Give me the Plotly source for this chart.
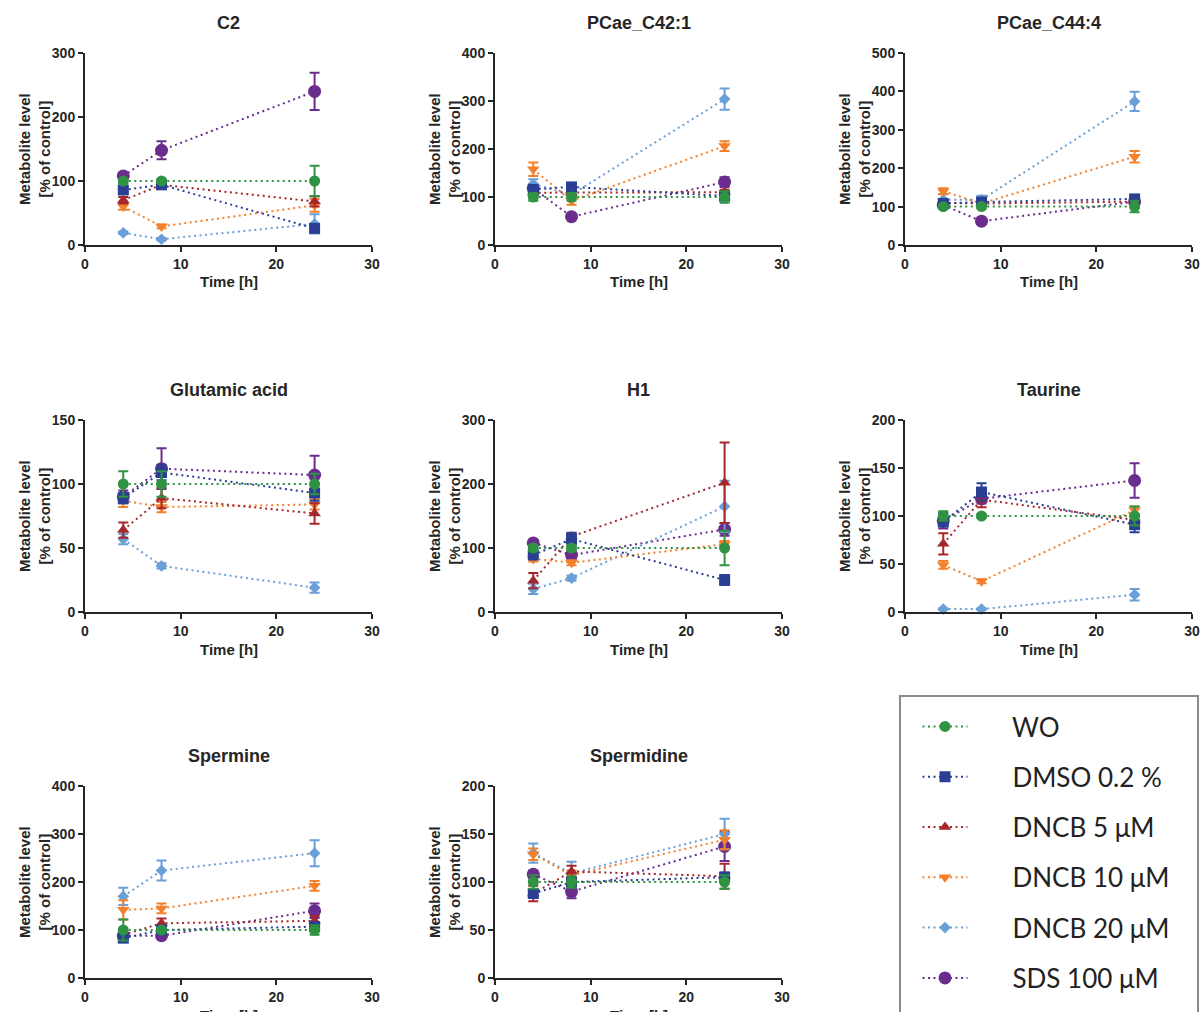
import plotly.graph_objects as go

W, H = 1201, 1012

TIMES = [4, 8, 24]
SERIES = ["WO", "DMSO 0.2 %", "DNCB 5 μM", "DNCB 10 μM", "DNCB 20 μM", "SDS 100 μM"]
COLORS = ["#2f9343", "#2a3f94", "#a5282c", "#f3812b", "#6a9fd8", "#6a2d8e"]
SYMBOLS = ["circle", "square", "triangle-up", "triangle-down", "diamond", "circle"]
SIZES = [11, 11, 11, 11, 9, 13]

PANEL_TITLES = ["C2", "PCae_C42:1", "PCae_C44:4", "Glutamic acid", "H1", "Taurine",
                "Spermine", "Spermidine"]
Y_MAX = [300, 400, 500, 150, 300, 200, 400, 200]
Y_DTICK = [100, 100, 100, 50, 100, 50, 100, 50]
X_MAX = 30
X_DTICK = 10

# rows follow SERIES order; columns follow TIMES
C2_MEAN = [[100, 100, 100], [86, 94, 26], [70, 94, 68], [60, 29, 62], [19, 9, 33], [108, 148, 240]]
C2_ERR = [[3, 3, 24], [4, 4, 6], [5, 4, 8], [5, 3, 10], [2, 2, 15], [4, 14, 29]]

C42_MEAN = [[100, 100, 100], [116, 121, 102], [109, 109, 110], [158, 92, 206], [127, 105, 304], [118, 59, 131]]
C42_ERR = [[8, 8, 12], [5, 5, 8], [5, 5, 5], [14, 8, 10], [10, 5, 22], [5, 4, 10]]

C44_MEAN = [[100, 100, 100], [108, 112, 120], [110, 108, 113], [140, 108, 230], [118, 118, 374], [104, 62, 113]]
C44_ERR = [[5, 5, 15], [5, 8, 5], [5, 5, 5], [8, 5, 15], [15, 10, 25], [4, 4, 6]]

GLU_MEAN = [[100, 100, 100], [89, 109, 93], [64, 89, 77], [87, 82, 84], [57, 36, 19], [90, 112, 107]]
GLU_ERR = [[10, 10, 8], [4, 6, 6], [6, 8, 8], [5, 4, 4], [4, 2, 4], [5, 16, 15]]

H1_MEAN = [[100, 100, 100], [89, 114, 50], [49, 118, 202], [83, 77, 106], [36, 53, 165], [108, 89, 129]]
H1_ERR = [[5, 4, 27], [5, 10, 8], [12, 5, 63], [4, 4, 5], [8, 4, 40], [4, 6, 10]]

TAU_MEAN = [[100, 100, 100], [94, 125, 91], [71, 117, 96], [49, 32, 106], [3, 3, 18], [95, 118, 137]]
TAU_ERR = [[5, 2, 10], [5, 9, 8], [11, 8, 5], [4, 2, 4], [1, 1, 6], [8, 5, 18]]

SPM_MEAN = [[100, 100, 100], [83, 100, 107], [90, 114, 119], [142, 145, 192], [170, 224, 260], [88, 88, 140]]
SPM_ERR = [[22, 4, 10], [5, 5, 8], [5, 10, 10], [20, 10, 10], [18, 21, 27], [4, 5, 15]]

SPD_MEAN = [[100, 100, 100], [88, 100, 105], [88, 111, 106], [129, 107, 144], [130, 109, 150], [108, 90, 137]]
SPD_ERR = [[7, 6, 7], [4, 4, 5], [8, 6, 13], [6, 5, 10], [10, 12, 16], [4, 7, 15]]

PANEL_MEANS = [C2_MEAN, C42_MEAN, C44_MEAN, GLU_MEAN, H1_MEAN, TAU_MEAN, SPM_MEAN, SPD_MEAN]
PANEL_ERRS = [C2_ERR, C42_ERR, C44_ERR, GLU_ERR, H1_ERR, TAU_ERR, SPM_ERR, SPD_ERR]

# ---- layout geometry (pixels) ----
COL_X = [(85, 372), (495, 782), (905, 1192)]
ROW_Y = [(53, 245), (420, 612), (786, 978)]

INK = "#262626"
BOLD = dict(family="Arial, Liberation Sans, sans-serif", color=INK, weight="bold")
LEGEND_PAD = "\u00a0" * 6

fig = go.Figure()
layout = dict(
    width=W, height=H,
    margin=dict(l=0, r=0, t=0, b=0, autoexpand=False),
    paper_bgcolor="white", plot_bgcolor="white",
    showlegend=True,
    annotations=[], shapes=[],
)

for p, title in enumerate(PANEL_TITLES):
    r, c = divmod(p, 3)
    x0, x1 = COL_X[c]
    y0, y1 = ROW_Y[r]
    sfx = "" if p == 0 else str(p + 1)
    xa, ya = "xaxis" + sfx, "yaxis" + sfx
    axis_common = dict(
        showline=True, linecolor=INK, linewidth=2,
        ticks="outside", ticklen=5, tickwidth=2, tickcolor=INK,
        showgrid=False, zeroline=False, automargin=False,
        tickfont=dict(size=14, **BOLD),
    )
    layout[xa] = dict(domain=[x0 / W, x1 / W], anchor="y" + sfx,
                      range=[0, X_MAX], dtick=X_DTICK, tick0=0, **axis_common)
    layout[ya] = dict(domain=[1 - y1 / H, 1 - y0 / H], anchor="x" + sfx,
                      range=[0, Y_MAX[p]], dtick=Y_DTICK[p], tick0=0, **axis_common)

    # panel title
    layout["annotations"].append(dict(
        text=title, xref="paper", yref="paper",
        x=(x0 + x1) / 2 / W, y=1 - (y0 - 30) / H,
        xanchor="center", yanchor="middle", showarrow=False,
        font=dict(size=18, **BOLD)))
    # x title
    layout["annotations"].append(dict(
        text="Time [h]", xref="paper", yref="paper",
        x=(x0 + x1) / 2 / W, y=1 - (y1 + 37) / H,
        xanchor="center", yanchor="middle", showarrow=False,
        font=dict(size=15, **BOLD)))
    # y title
    layout["annotations"].append(dict(
        text="Metabolite level<br>[% of control]", xref="paper", yref="paper",
        x=(x0 - 51) / W, y=1 - (y0 + y1) / 2 / H, textangle=-90,
        xanchor="center", yanchor="middle", showarrow=False,
        font=dict(size=15, **BOLD)))

    means = PANEL_MEANS[p]
    errs = PANEL_ERRS[p]
    for s in reversed(range(len(SERIES))):
        fig.add_trace(go.Scatter(
            x=TIMES, y=means[s],
            error_y=dict(type="data", array=errs[s], visible=True,
                         color=COLORS[s], thickness=2, width=5),
            mode="lines+markers",
            name=LEGEND_PAD + SERIES[s],
            legendgroup=SERIES[s],
            legendrank=s + 1,
            showlegend=(p == 0),
            line=dict(color=COLORS[s], width=2, dash="2px,3.5px"),
            marker=dict(symbol=SYMBOLS[s], size=SIZES[s], color=COLORS[s],
                        line=dict(width=0)),
            cliponaxis=False,
            xaxis="x" + sfx, yaxis="y" + sfx,
        ))

# legend frame
layout["shapes"].append(dict(
    type="rect", xref="paper", yref="paper",
    x0=900 / W, x1=1198 / W, y0=-0.05, y1=1 - 696 / H,
    line=dict(color="#8a8a8a", width=2), fillcolor="rgba(0,0,0,0)"))

layout["legend"] = dict(
    x=917.5 / W, y=1 - 703 / H, xanchor="left", yanchor="top",
    bgcolor="rgba(0,0,0,0)", borderwidth=0,
    font=dict(family="Lato, Open Sans, sans-serif", size=26, color="#222222"),
    traceorder="grouped", tracegroupgap=13.5,
    itemsizing="trace", itemwidth=45,
)

fig.update_layout(**layout)
fig.write_html("out.html", config={"displayModeBar": False},
               post_script="document.body.style.margin='0';")
